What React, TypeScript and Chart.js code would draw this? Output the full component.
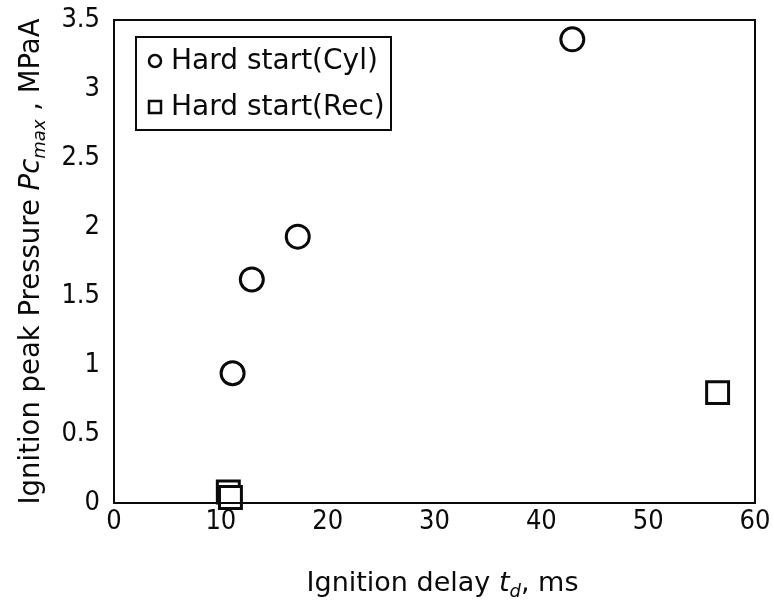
import React, { useEffect, useRef } from 'react';
import { Chart, registerables } from 'chart.js';

Chart.register(...registerables);

const cylX = [11.1, 12.9, 17.2, 42.9];
const cylY = [0.94, 1.62, 1.93, 3.36];
const recX = [10.7, 10.9, 56.5];
const recY = [0.08, 0.04, 0.8];
const seriesNames = ['Hard start(Cyl)', 'Hard start(Rec)'];
const xRange = [0, 60, 10];
const yRange = [0, 3.5, 0.5];

const TICK_FONT = '"DejaVu Sans Condensed", "DejaVu Sans", Verdana, sans-serif';
const FONT = '"DejaVu Sans", Verdana, sans-serif';
const INK = '#0a0a0a';

type Seg = { t: string; italic?: boolean; small?: boolean; dy?: number };
const xTitle: Seg[] = [
  { t: 'Ignition delay ' },
  { t: 't', italic: true },
  { t: 'd', italic: true, small: true, dy: 6 },
  { t: ', ms' },
];
const yTitle: Seg[] = [
  { t: 'Ignition peak Pressure ' },
  { t: 'Pc', italic: true },
  { t: 'max', italic: true, small: true, dy: 6 },
  { t: ' , MPaA' },
];

function segFont(s: Seg, size: number) {
  const sz = s.small ? Math.round(size * 0.65) : size;
  return `${s.italic ? 'italic ' : ''}${sz}px ${FONT}`;
}

function drawSegs(ctx: CanvasRenderingContext2D, segs: Seg[], size: number) {
  let total = 0;
  const widths = segs.map((s) => {
    ctx.font = segFont(s, size);
    const w = ctx.measureText(s.t).width;
    total += w;
    return w;
  });
  let x = -total / 2;
  segs.forEach((s, i) => {
    ctx.font = segFont(s, size);
    ctx.fillText(s.t, x, s.dy || 0);
    x += widths[i];
  });
}

const decorPlugin = {
  id: 'decor',
  afterDraw(chart: any) {
    const ctx: CanvasRenderingContext2D = chart.ctx;
    const a = chart.chartArea;
    ctx.save();
    ctx.strokeStyle = INK;
    ctx.lineWidth = 2;
    ctx.strokeRect(a.left, a.top, a.right - a.left, a.bottom - a.top);

    ctx.fillStyle = INK;
    ctx.textBaseline = 'alphabetic';
    ctx.textAlign = 'left';
    ctx.save();
    ctx.translate((a.left + a.right) / 2 + 8, 591);
    drawSegs(ctx, xTitle, 27);
    ctx.restore();
    ctx.save();
    ctx.translate(39, (a.top + a.bottom) / 2);
    ctx.rotate(-Math.PI / 2);
    drawSegs(ctx, yTitle, 27.5);
    ctx.restore();

    const lx = 136, ly = 37, lw = 255, lh = 93;
    ctx.fillStyle = '#fff';
    ctx.fillRect(lx, ly, lw, lh);
    ctx.lineWidth = 2;
    ctx.strokeStyle = INK;
    ctx.strokeRect(lx, ly, lw, lh);
    ctx.fillStyle = INK;
    ctx.font = `28px ${FONT}`;
    ctx.textBaseline = 'middle';
    const rows = [ly + 24, ly + 70];
    ctx.lineWidth = 2.5;
    ctx.beginPath();
    ctx.arc(155, rows[0], 6, 0, Math.PI * 2);
    ctx.stroke();
    ctx.strokeRect(149, rows[1] - 6, 12, 12);
    ctx.fillText(seriesNames[0], 171, rows[0] + 1);
    ctx.fillText(seriesNames[1], 171, rows[1] + 1);
    ctx.restore();
  },
};

export default function App() {
  const ref = useRef<HTMLCanvasElement>(null);
  useEffect(() => {
    if (!ref.current) return;
    const chart = new Chart(ref.current, {
      type: 'scatter',
      data: {
        datasets: [
          {
            label: seriesNames[0],
            data: cylX.map((x, i) => ({ x, y: cylY[i] })),
            pointStyle: 'circle',
            pointRadius: 11.5,
            borderWidth: 3,
            borderColor: INK,
            backgroundColor: '#fff',
            clip: false as any,
          },
          {
            label: seriesNames[1],
            data: recX.map((x, i) => ({ x, y: recY[i] })),
            pointStyle: 'rect',
            pointRadius: 15.5,
            borderWidth: 3,
            borderColor: INK,
            backgroundColor: '#fff',
            clip: false as any,
          },
        ],
      },
      options: {
        animation: false,
        responsive: false,
        maintainAspectRatio: false,
        layout: { padding: { top: 20, right: 19, left: 0, bottom: 0 } },
        plugins: { legend: { display: false }, tooltip: { enabled: false } },
        scales: {
          x: {
            type: 'linear',
            min: xRange[0],
            max: xRange[1],
            ticks: {
              stepSize: xRange[2],
              color: INK,
              font: { family: TICK_FONT, size: 27 },
              padding: 3,
              callback: (v: any) => String(Number(v)),
            },
            grid: { display: false, drawTicks: false },
            border: { display: false },
            afterFit: (s: any) => {
              s.height = 103;
              s.paddingLeft = 0;
              s.paddingRight = 0;
            },
          },
          y: {
            type: 'linear',
            min: yRange[0],
            max: yRange[1],
            ticks: {
              stepSize: yRange[2],
              color: INK,
              font: { family: TICK_FONT, size: 27 },
              padding: 14,
              callback: (v: any) => String(Number(v)),
            },
            grid: { display: false, drawTicks: false },
            border: { display: false },
            afterFit: (s: any) => {
              s.width = 114;
              s.paddingTop = 0;
              s.paddingBottom = 0;
            },
          },
        },
      },
      plugins: [decorPlugin],
    });
    return () => chart.destroy();
  }, []);
  return (
    <div style={{ position: 'fixed', left: 0, top: 0, width: 774, height: 606, background: '#fff' }}>
      <canvas ref={ref} width={774} height={606} style={{ width: 774, height: 606, display: 'block' }} />
    </div>
  );
}
